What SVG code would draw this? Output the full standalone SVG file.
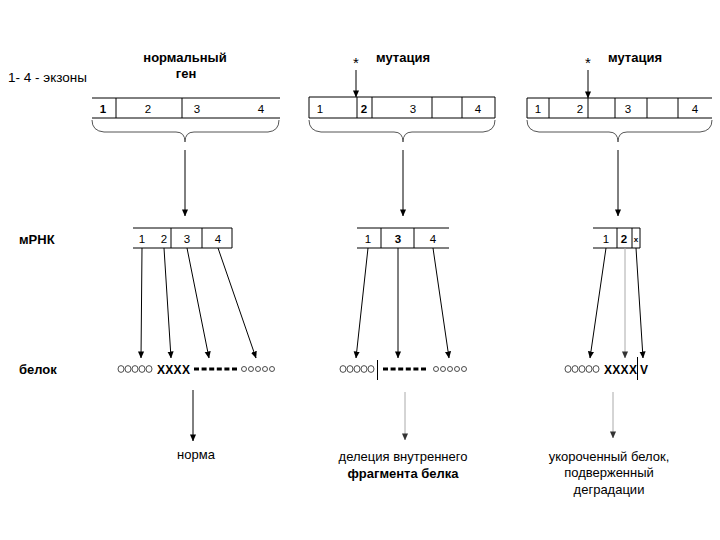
<svg xmlns="http://www.w3.org/2000/svg" width="720" height="540" viewBox="0 0 720 540">
<defs>
<marker id="ah" viewBox="0 0 8 8" refX="7.5" refY="4" markerWidth="7" markerHeight="7" markerUnits="userSpaceOnUse" orient="auto">
<path d="M0,0.5 L8,4 L0,7.5 Z" fill="#000"/>
</marker>
<marker id="ahg" viewBox="0 0 8 8" refX="7.5" refY="4" markerWidth="7" markerHeight="7" markerUnits="userSpaceOnUse" orient="auto">
<path d="M0,0.5 L8,4 L0,7.5 Z" fill="#333"/>
</marker>
<style>
text{font-family:"Liberation Sans",Arial,sans-serif;fill:#000}
.t{font-size:13px;font-weight:bold}
.n{font-size:11.5px}
.nb{font-size:11.5px;font-weight:bold}
.b{font-size:13px}
.box{stroke:#000;stroke-width:1;fill:none}
.br{stroke:#555;stroke-width:1;fill:none}
.ar{stroke:#000;stroke-width:1;fill:none;marker-end:url(#ah)}
.ag{stroke:#aaa;stroke-width:1;fill:none;marker-end:url(#ahg)}
.oc{fill:none;stroke:#222;stroke-width:0.8}
.dash{stroke:#000;stroke-width:3;stroke-dasharray:5 2.6}
.x{font-size:12px;font-weight:bold;letter-spacing:0.3px}
</style>
</defs>
<rect width="720" height="540" fill="#fff"/>

<g id="labels">
<text x="8" y="82" style="font-size:13.5px">1- 4 - экзоны</text>
<text x="19" y="244" class="t">мРНК</text>
<text x="19" y="374" class="t">белок</text>
</g>

<g id="gene-normal">
<text x="185" y="62" class="t" text-anchor="middle">нормальный</text>
<text x="186" y="78" class="t" text-anchor="middle">ген</text>
<path class="box" d="M92,98 H280 M92,118 H280 M116,98 V118 M182,98 V118"/>
<text x="103" y="113" class="nb" text-anchor="middle">1</text>
<text x="148" y="113" class="n" text-anchor="middle">2</text>
<text x="197" y="113" class="n" text-anchor="middle">3</text>
<text x="261" y="113" class="n" text-anchor="middle">4</text>
<path class="br" d="M92,120 Q92,131 104,132 L176,132 Q185,132 185,142 Q185,132 194,132 L268,132 Q279,131 279,120"/>
</g>

<g id="gene-mut1">
<text x="403" y="62" class="t" text-anchor="middle">мутация</text>
<text x="356" y="68" style="font-size:15px" text-anchor="middle">*</text>
<path class="box" d="M309,97 H495 V118 H309 Z M357,97 V118 M372,97 V118 M432,97 V118 M462,97 V118"/>
<text x="320" y="113" class="n" text-anchor="middle">1</text>
<text x="364" y="113" class="nb" text-anchor="middle">2</text>
<text x="413" y="113" class="n" text-anchor="middle">3</text>
<text x="478" y="113" class="n" text-anchor="middle">4</text>
<path class="br" d="M309,120 Q309,131 321,132 L394,132 Q403,132 403,142 Q403,132 412,132 L483,132 Q495,131 495,120"/>
</g>

<g id="gene-mut2">
<text x="635" y="62" class="t" text-anchor="middle">мутация</text>
<text x="588" y="68" style="font-size:15px" text-anchor="middle">*</text>
<path class="box" d="M527,98 H712 M527,118 H712 M527,98 V118 M549,98 V118 M588,98 V118 M615,98 V118 M647,98 V118 M678,98 V118"/>
<text x="538" y="113" class="n" text-anchor="middle">1</text>
<text x="580" y="113" class="n" text-anchor="middle">2</text>
<text x="628" y="113" class="n" text-anchor="middle">3</text>
<text x="695" y="113" class="n" text-anchor="middle">4</text>
<path class="br" d="M527,120 Q527,131 539,132 L609,132 Q618,132 618,142 Q618,132 627,132 L700,132 Q712,131 712,120"/>
</g>

<g id="mrna-normal">
<path class="box" d="M133,228 H232 V248 H133 M171,228 V248 M202,228 V248"/>
<text x="142" y="243" class="n" text-anchor="middle">1</text>
<text x="164" y="243" class="n" text-anchor="middle">2</text>
<text x="187" y="243" class="n" text-anchor="middle">3</text>
<text x="218" y="243" class="n" text-anchor="middle">4</text>
</g>

<g id="mrna-mut1">
<path class="box" d="M357,228 H449 M357,248 H449 M381,228 V248 M414,228 V248"/>
<text x="368" y="243" class="n" text-anchor="middle">1</text>
<text x="398" y="243" class="nb" text-anchor="middle">3</text>
<text x="433" y="243" class="n" text-anchor="middle">4</text>
</g>

<g id="mrna-mut2">
<path class="box" d="M593,228 H640 V248 H593 M617,228 V248 M632,228 V248"/>
<text x="606" y="243" class="n" text-anchor="middle">1</text>
<text x="624" y="243" class="nb" text-anchor="middle">2</text>
<text x="636" y="242" style="font-size:8px;font-weight:bold" text-anchor="middle">x</text>
</g>

<g id="protein-normal">
<g class="oc"><ellipse cx="121" cy="369" rx="3" ry="3.4"/><ellipse cx="128" cy="369" rx="3" ry="3.4"/><ellipse cx="135" cy="369" rx="3" ry="3.4"/><ellipse cx="142" cy="369" rx="3" ry="3.4"/><ellipse cx="149" cy="369" rx="3" ry="3.4"/></g>
<text x="157" y="373.5" class="x">XXXX</text>
<line class="dash" x1="194" y1="369" x2="237" y2="369"/>
<g class="oc"><circle cx="244" cy="369" r="2.5"/><circle cx="251" cy="369" r="2.5"/><circle cx="258" cy="369" r="2.5"/><circle cx="265" cy="369" r="2.5"/><circle cx="272" cy="369" r="2.5"/></g>
</g>

<g id="protein-mut1">
<g class="oc"><ellipse cx="343" cy="369" rx="3" ry="3.4"/><ellipse cx="350" cy="369" rx="3" ry="3.4"/><ellipse cx="357" cy="369" rx="3" ry="3.4"/><ellipse cx="364" cy="369" rx="3" ry="3.4"/><ellipse cx="371" cy="369" rx="3" ry="3.4"/></g>
<line x1="377.5" y1="360" x2="377.5" y2="380" stroke="#000" stroke-width="1"/>
<line class="dash" x1="383" y1="369" x2="427" y2="369"/>
<g class="oc"><circle cx="436" cy="369" r="2.5"/><circle cx="443" cy="369" r="2.5"/><circle cx="450" cy="369" r="2.5"/><circle cx="457" cy="369" r="2.5"/><circle cx="464" cy="369" r="2.5"/></g>
</g>

<g id="protein-mut2">
<g class="oc"><ellipse cx="568" cy="369" rx="3" ry="3.4"/><ellipse cx="575" cy="369" rx="3" ry="3.4"/><ellipse cx="582" cy="369" rx="3" ry="3.4"/><ellipse cx="589" cy="369" rx="3" ry="3.4"/><ellipse cx="596" cy="369" rx="3" ry="3.4"/></g>
<text x="604" y="373.5" class="x">XXXX</text>
<line x1="637.5" y1="357" x2="637.5" y2="380" stroke="#000" stroke-width="1"/>
<text x="644" y="373.5" style="font-size:12px;font-weight:bold" text-anchor="middle">V</text>
</g>

<g id="outcomes">
<text x="196" y="459" class="b" text-anchor="middle">норма</text>
<text x="403" y="461" class="b" text-anchor="middle">делеция внутреннего</text>
<text x="403" y="478" class="b" text-anchor="middle" font-weight="bold">фрагмента белка</text>
<text x="609" y="461" class="b" text-anchor="middle">укороченный белок,</text>
<text x="609" y="477" class="b" text-anchor="middle">подверженный</text>
<text x="609" y="494" class="b" text-anchor="middle">деградации</text>
</g>

<g id="connectors">
<line class="ar" x1="356" y1="70" x2="356" y2="97"/>
<line class="ar" x1="588" y1="70" x2="588" y2="98"/>
<line class="ar" x1="185" y1="150" x2="185" y2="216"/>
<line class="ar" x1="403" y1="150" x2="403" y2="216"/>
<line class="ar" x1="618" y1="150" x2="618" y2="216"/>
<line class="ar" x1="142" y1="248" x2="141" y2="358"/>
<line class="ar" x1="164" y1="248" x2="171" y2="358"/>
<line class="ar" x1="187" y1="248" x2="209" y2="358"/>
<line class="ar" x1="218" y1="248" x2="256" y2="358"/>
<line class="ar" x1="368" y1="248" x2="356" y2="358"/>
<line class="ar" x1="398" y1="248" x2="398" y2="358"/>
<line class="ar" x1="433" y1="248" x2="449" y2="358"/>
<line class="ar" x1="606" y1="248" x2="590" y2="358"/>
<line class="ag" x1="625" y1="248" x2="625" y2="358"/>
<line class="ar" x1="636" y1="248" x2="643" y2="358"/>
<line class="ar" x1="193" y1="390" x2="193" y2="441"/>
<line class="ag" x1="405" y1="392" x2="405" y2="440"/>
<line class="ag" x1="613" y1="392" x2="613" y2="438"/>
</g>
</svg>
